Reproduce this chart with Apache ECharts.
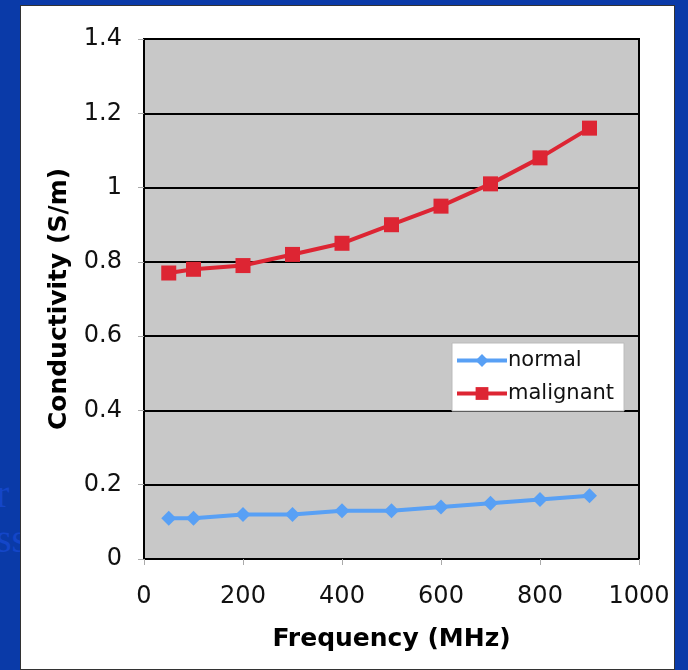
<!DOCTYPE html>
<html>
<head>
<meta charset="utf-8">
<script src="https://cdn.jsdelivr.net/npm/echarts@6/dist/echarts.min.js"></script>
<style>
  html, body { margin: 0; padding: 0; background: #0a3aa8; }
  #frame { position: absolute; left: 20px; top: 5px; width: 655px; height: 665px;
           background: #ffffff; border: 1px solid #333; box-sizing: border-box; }
  #chart { position: absolute; left: 0; top: 0; width: 688px; height: 670px; }
  .side { position: absolute; left: -4px; color: #1446c8; font: 40px "Liberation Serif", serif; }
</style>
</head>
<body>
<div class="side" style="top:470px">r</div>
<div class="side" style="top:515px">ss</div>
<div id="frame"></div>
<div id="chart"></div>
<script>
// Frequency points (MHz)
const frequency = [50, 100, 200, 300, 400, 500, 600, 700, 800, 900];
// Conductivity (S/m)
const normal = [0.11, 0.11, 0.12, 0.12, 0.13, 0.13, 0.14, 0.15, 0.16, 0.17];
const malignant = [0.77, 0.78, 0.79, 0.82, 0.85, 0.90, 0.95, 1.01, 1.08, 1.16];
const seriesNames = ['normal', 'malignant'];

const pairs = (ys) => frequency.map((x, i) => [x, ys[i]]);
const font = 'DejaVu Sans, Verdana, sans-serif';

const chart = echarts.init(document.getElementById('chart'), null, { renderer: 'canvas' });
chart.setOption({
  backgroundColor: 'transparent',
  animation: false,
  grid: { left: 144, right: 49, top: 39, bottom: 111, show: true,
          backgroundColor: '#c8c8c8', borderColor: '#000', borderWidth: 2 },
  xAxis: {
    type: 'value', min: 0, max: 1000, interval: 200,
    name: 'Frequency (MHz)', nameLocation: 'middle', nameGap: 68,
    nameTextStyle: { fontFamily: font, fontSize: 25, fontWeight: 'bold', color: '#000' },
    axisLine: { show: false },
    axisTick: { show: true, length: 6, lineStyle: { color: '#aaa' } },
    axisLabel: { fontFamily: font, fontSize: 24, color: '#111', margin: 26,
                 formatter: (v) => String(v) },
    splitLine: { show: false }
  },
  yAxis: {
    type: 'value', min: 0, max: 1.4, interval: 0.2,
    name: 'Conductivity (S/m)', nameLocation: 'middle', nameGap: 72, nameRotate: 90,
    nameTextStyle: { fontFamily: font, fontSize: 25, fontWeight: 'bold', color: '#000' },
    axisLine: { show: false },
    axisTick: { show: true, length: 6, lineStyle: { color: '#aaa' } },
    axisLabel: { fontFamily: font, fontSize: 24, color: '#111', margin: 22,
                 formatter: (v) => String(Math.round(v * 10) / 10) },
    splitLine: { show: true, lineStyle: { color: '#000', width: 2 } }
  },
  legend: {
    orient: 'vertical', left: 452, top: 343,
    backgroundColor: '#ffffff', borderColor: '#bbb', borderWidth: 1,
    padding: [7, 10, 7, 3], itemGap: 12, itemWidth: 50, itemHeight: 16,
    lineStyle: { width: 4 },
    textStyle: { fontFamily: font, fontSize: 21, color: '#111', padding: [0, 4, 0, -4] },
    data: seriesNames
  },
  series: [
    { name: seriesNames[0], type: 'line', data: pairs(normal),
      color: '#58a0f5', lineStyle: { width: 4 }, symbol: 'diamond', symbolSize: 15,
      itemStyle: { color: '#58a0f5' } },
    { name: seriesNames[1], type: 'line', data: pairs(malignant),
      color: '#dd2533', lineStyle: { width: 4 }, symbol: 'rect', symbolSize: 15,
      itemStyle: { color: '#dd2533' } }
  ]
});
</script>
</body>
</html>
